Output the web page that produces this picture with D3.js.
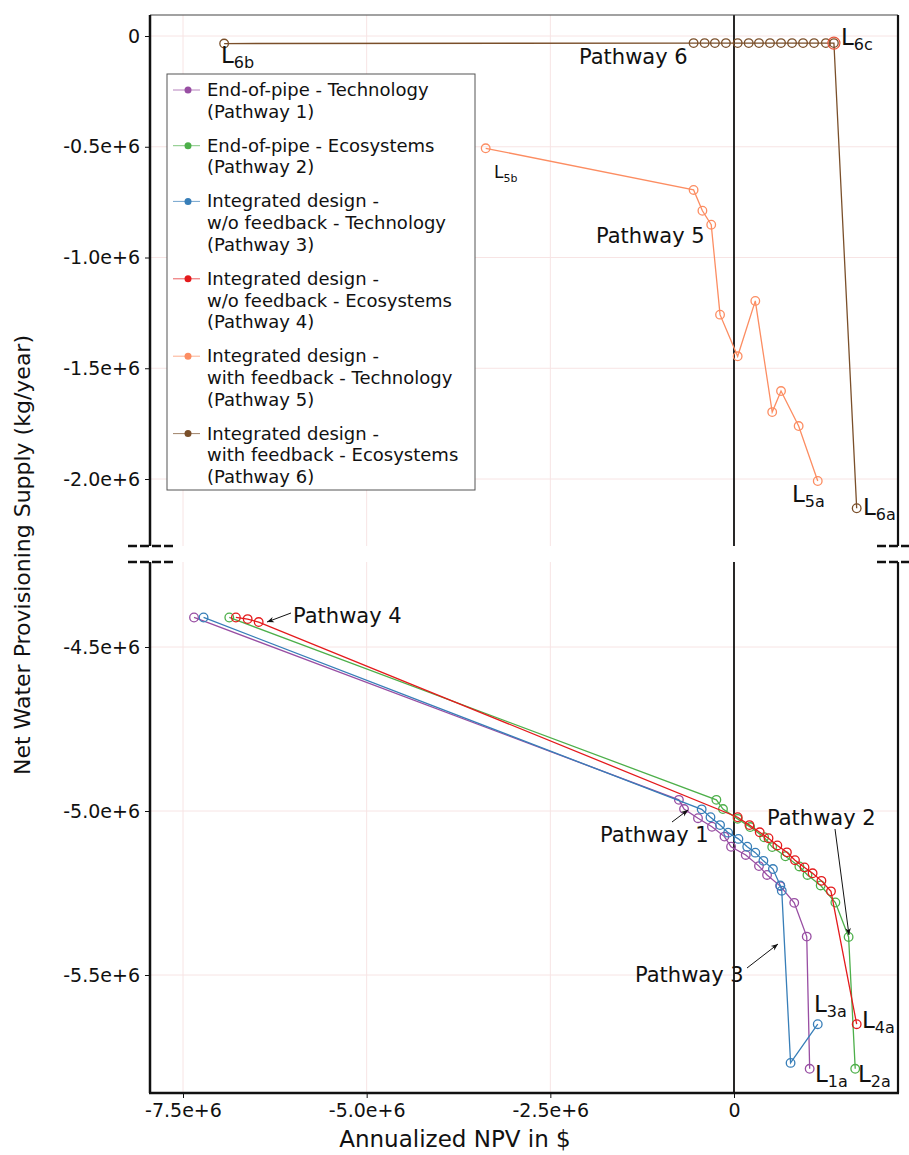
<!DOCTYPE html>
<html>
<head>
<meta charset="utf-8">
<script src="https://cdn.jsdelivr.net/npm/d3@7"></script>
<style>
  body { margin: 0; background: #fff; }
  text { font-family: "DejaVu Sans", sans-serif; }
</style>
</head>
<body>
<div id="chart"></div>
<script>
// all values in millions (e+6)
const xTicks = [-7.5, -5.0, -2.5, 0];
const yTicksTop = [0, -0.5, -1.0, -1.5, -2.0];
const yTicksBottom = [-4.5, -5.0, -5.5];

// Pathway 1 - End-of-pipe - Technology
const p1x = [-7.35, -0.75, -0.68, -0.49, -0.30, -0.13, -0.04, 0.16, 0.34, 0.45, 0.63, 0.82, 0.99, 1.03];
const p1y = [-4.41, -4.966, -4.994, -5.022, -5.048, -5.078, -5.109, -5.134, -5.168, -5.195, -5.229, -5.280, -5.383, -5.786];
// Pathway 2 - End-of-pipe - Ecosystems
const p2x = [-6.87, -0.24, -0.15, 0.05, 0.22, 0.41, 0.52, 0.70, 0.89, 1.00, 1.18, 1.38, 1.56, 1.65];
const p2y = [-4.41, -4.966, -4.994, -5.024, -5.049, -5.080, -5.110, -5.138, -5.169, -5.195, -5.227, -5.279, -5.384, -5.786];
// Pathway 3 - Integrated design w/o feedback - Technology
const p3x = [-7.22, -0.44, -0.32, -0.19, -0.08, 0.06, 0.18, 0.29, 0.40, 0.53, 0.63, 0.65, 0.77, 1.14];
const p3y = [-4.41, -4.995, -5.019, -5.043, -5.066, -5.085, -5.109, -5.127, -5.152, -5.177, -5.227, -5.243, -5.768, -5.650];
// Pathway 4 - Integrated design w/o feedback - Ecosystems
const p4x = [-6.78, -6.62, -6.47, 0.05, 0.21, 0.35, 0.47, 0.59, 0.72, 0.83, 0.96, 1.07, 1.19, 1.32, 1.67];
const p4y = [-4.41, -4.415, -4.424, -5.019, -5.043, -5.065, -5.083, -5.105, -5.126, -5.150, -5.172, -5.190, -5.213, -5.245, -5.650];
// Pathway 5 - Integrated design with feedback - Technology
const p5x = [-3.38, -0.55, -0.43, -0.31, -0.19, 0.05, 0.29, 0.52, 0.64, 0.88, 1.14];
const p5y = [-0.507, -0.695, -0.789, -0.852, -1.258, -1.446, -1.196, -1.698, -1.603, -1.761, -2.009];
// Pathway 6 - Integrated design with feedback - Ecosystems
const p6x = [-6.94, -0.55, -0.40, -0.26, -0.11, 0.05, 0.20, 0.34, 0.49, 0.64, 0.79, 0.94, 1.09, 1.25, 1.36, 1.67];
const p6y = [-0.034, -0.032, -0.032, -0.032, -0.032, -0.032, -0.032, -0.032, -0.032, -0.032, -0.032, -0.032, -0.032, -0.032, -0.032, -2.132];

const legendLines = [
  ["End-of-pipe - Technology", "(Pathway 1)"],
  ["End-of-pipe - Ecosystems", "(Pathway 2)"],
  ["Integrated design -", "w/o feedback - Technology", "(Pathway 3)"],
  ["Integrated design -", "w/o feedback - Ecosystems", "(Pathway 4)"],
  ["Integrated design -", "with feedback - Technology", "(Pathway 5)"],
  ["Integrated design -", "with feedback - Ecosystems", "(Pathway 6)"]
];
const colors = ["#984ea3", "#4daf4a", "#377eb8", "#e41a1c", "#fc8d62", "#7a4f2a"];

const series = [
  { x: p1x, y: p1y, panel: "bottom" },
  { x: p2x, y: p2y, panel: "bottom" },
  { x: p3x, y: p3y, panel: "bottom" },
  { x: p4x, y: p4y, panel: "bottom" },
  { x: p5x, y: p5y, panel: "top" },
  { x: p6x, y: p6y, panel: "top" }
];

const width = 909, height = 1155;
const left = 150, right = 898;
const topPanel = [15, 546], bottomPanel = [562, 1093];

const svg = d3.select("#chart").append("svg")
  .attr("width", width).attr("height", height);

const x = d3.scaleLinear().domain([-7.5, 0]).range([183, 734]);
const yTop = d3.scaleLinear().domain([0, -2.0]).range([36, 479]);
const yBot = d3.scaleLinear().domain([-4.5, -5.5]).range([647, 975]);

const fmt = v => v === 0 ? "0" : v.toFixed(1) + "e+6";

// grid
const grid = svg.append("g").attr("stroke", "#f7e4e4").attr("stroke-width", 1);
yTicksTop.forEach(t => grid.append("line").attr("x1", left).attr("x2", right).attr("y1", yTop(t)).attr("y2", yTop(t)));
yTicksBottom.forEach(t => grid.append("line").attr("x1", left).attr("x2", right).attr("y1", yBot(t)).attr("y2", yBot(t)));
xTicks.forEach(t => {
  grid.append("line").attr("x1", x(t)).attr("x2", x(t)).attr("y1", topPanel[0]).attr("y2", topPanel[1]);
  grid.append("line").attr("x1", x(t)).attr("x2", x(t)).attr("y1", bottomPanel[0]).attr("y2", bottomPanel[1]);
});

// zero line
[topPanel, bottomPanel].forEach(p => {
  svg.append("line").attr("x1", x(0)).attr("x2", x(0)).attr("y1", p[0]).attr("y2", p[1])
    .attr("stroke", "#111").attr("stroke-width", 1.8);
});

// series
series.forEach((s, i) => {
  const ys = s.panel === "top" ? yTop : yBot;
  const pts = s.x.map((v, j) => [x(v), ys(s.y[j])]);
  const g = svg.append("g");
  g.append("path").attr("d", d3.line()(pts))
    .attr("fill", "none").attr("stroke", colors[i]).attr("stroke-width", 1.3);
  g.selectAll("circle").data(pts).join("circle")
    .attr("cx", d => d[0]).attr("cy", d => d[1]).attr("r", 4.3)
    .attr("fill", "none").attr("stroke", colors[i]).attr("stroke-width", 1.3);
});
// highlighted end point L6c
const l6c = p6x.length - 2;
svg.append("circle").attr("cx", x(p6x[l6c])).attr("cy", yTop(p6y[l6c])).attr("r", 6)
  .attr("fill", "none").attr("stroke", "#e8553a").attr("stroke-width", 1.2);

// axes
const yAxisTop = svg.append("g").attr("transform", `translate(${left},0)`)
  .call(d3.axisLeft(yTop).tickValues(yTicksTop).tickFormat(fmt).tickSize(5).tickPadding(5));
const yAxisBot = svg.append("g").attr("transform", `translate(${left},0)`)
  .call(d3.axisLeft(yBot).tickValues(yTicksBottom).tickFormat(fmt).tickSize(5).tickPadding(5));
const xAxis = svg.append("g").attr("transform", `translate(0,${bottomPanel[1]})`)
  .call(d3.axisBottom(x).tickValues(xTicks).tickFormat(fmt).tickSize(5).tickPadding(6));
[yAxisTop, yAxisBot, xAxis].forEach(a => {
  a.select(".domain").remove();
  a.selectAll("text").attr("font-size", 19).attr("fill", "#111")
    .style("font-family", "'DejaVu Sans', sans-serif");
  a.selectAll(".tick line").attr("stroke", "#111");
});

// frame
const frame = svg.append("g").attr("stroke", "#111").attr("fill", "none");
frame.append("line").attr("x1", left).attr("x2", right).attr("y1", topPanel[0]).attr("y2", topPanel[0])
  .attr("stroke", "#444").attr("stroke-width", 1.2);
[topPanel, bottomPanel].forEach(p => {
  frame.append("line").attr("x1", left).attr("x2", left).attr("y1", p[0]).attr("y2", p[1]).attr("stroke-width", 2.5);
  frame.append("line").attr("x1", right).attr("x2", right).attr("y1", p[0]).attr("y2", p[1]).attr("stroke-width", 2.2);
});
frame.append("line").attr("x1", left - 1).attr("x2", right + 1).attr("y1", bottomPanel[1]).attr("y2", bottomPanel[1])
  .attr("stroke-width", 2.5);

// axis break marks
[[128, 176], [877, 909]].forEach(([a, b]) => {
  [topPanel[1], bottomPanel[0]].forEach(yy => {
    svg.append("line").attr("x1", a).attr("x2", b).attr("y1", yy).attr("y2", yy)
      .attr("stroke", "#111").attr("stroke-width", 2.5).attr("stroke-dasharray", "9,3");
  });
});

// axis titles
svg.append("text").attr("x", 455).attr("y", 1147).attr("text-anchor", "middle")
  .attr("font-size", 23).attr("fill", "#111").text("Annualized NPV in $");
svg.append("text").attr("transform", "translate(30,555) rotate(-90)").attr("text-anchor", "middle")
  .attr("font-size", 22).attr("fill", "#111").text("Net Water Provisioning Supply (kg/year)");

// legend
const lg = svg.append("g");
lg.append("rect").attr("x", 167).attr("y", 74).attr("width", 308).attr("height", 416)
  .attr("fill", "#fff").attr("stroke", "#555").attr("stroke-width", 1);
let base = 96;
legendLines.forEach((lines, i) => {
  lg.append("line").attr("x1", 173).attr("x2", 200).attr("y1", base - 6).attr("y2", base - 6)
    .attr("stroke", colors[i]).attr("stroke-width", 1).attr("opacity", 0.7);
  lg.append("circle").attr("cx", 188).attr("cy", base - 6).attr("r", 3.5).attr("fill", colors[i]);
  lines.forEach((t, k) => {
    lg.append("text").attr("x", 207).attr("y", base + k * 21.7)
      .attr("font-size", 18).attr("fill", "#111").text(t);
  });
  base += (lines.length - 1) * 21.7 + 34;
});

// L labels with subscripts
function lab(px, py, sub, size, subSize) {
  const t = svg.append("text").attr("x", px).attr("y", py).attr("font-size", size).attr("fill", "#111");
  t.append("tspan").text("L");
  t.append("tspan").attr("font-size", subSize).attr("dy", size * 0.22).text(sub);
}
lab(221, 63, "6b", 23, 16);
lab(841, 45, "6c", 23, 16);
lab(494, 178, "5b", 17, 11);
lab(792, 502, "5a", 23, 16);
lab(863, 515, "6a", 23, 16);
lab(814, 1012, "3a", 23, 16);
lab(862, 1028, "4a", 23, 16);
lab(815, 1082, "1a", 23, 16);
lab(858, 1082, "2a", 23, 16);

// pathway annotations
svg.append("defs").append("marker").attr("id", "arr")
  .attr("viewBox", "0 0 10 10").attr("refX", 10).attr("refY", 5)
  .attr("markerWidth", 9).attr("markerHeight", 7).attr("orient", "auto")
  .attr("markerUnits", "userSpaceOnUse")
  .append("path").attr("d", "M0,1 L10,5 L0,9 L3,5 Z").attr("fill", "#111");

const notes = [
  { t: "Pathway 6", x: 579, y: 64 },
  { t: "Pathway 5", x: 596, y: 243 },
  { t: "Pathway 4", x: 293, y: 623, a: [291, 613, 267, 622] },
  { t: "Pathway 1", x: 600, y: 842, a: [672, 822, 688, 810] },
  { t: "Pathway 2", x: 767, y: 825, a: [835, 829, 849, 935] },
  { t: "Pathway 3", x: 635, y: 982, a: [747, 968, 778, 944] }
];
notes.forEach(n => {
  svg.append("text").attr("x", n.x).attr("y", n.y).attr("font-size", 21).attr("fill", "#111").text(n.t);
  if (n.a) {
    svg.append("line").attr("x1", n.a[0]).attr("y1", n.a[1]).attr("x2", n.a[2]).attr("y2", n.a[3])
      .attr("stroke", "#111").attr("stroke-width", 1).attr("marker-end", "url(#arr)");
  }
});
</script>
</body>
</html>
